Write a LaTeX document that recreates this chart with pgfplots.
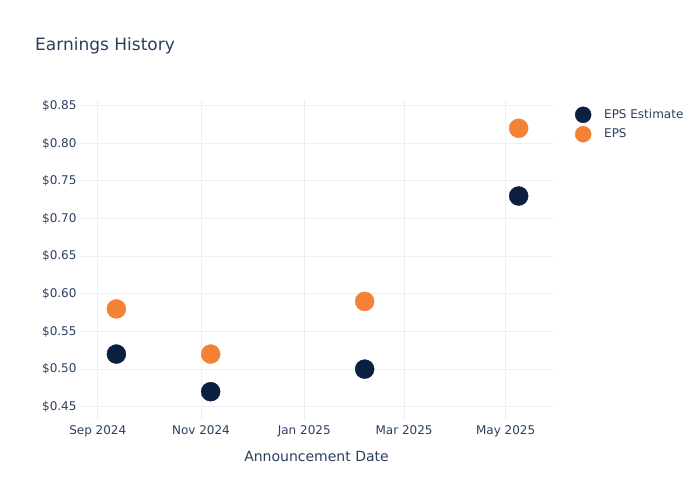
\documentclass[border=0pt]{standalone}
\usepackage{pgfplots}
\pgfplotsset{compat=1.18}
\usepackage{fontspec}
\setmainfont{DejaVu Sans}
\definecolor{navy}{RGB}{11,31,65}
\definecolor{orng}{RGB}{245,129,55}
\definecolor{txt}{RGB}{42,63,95}
\definecolor{grd}{RGB}{235,240,248}
\begin{document}
\begin{tikzpicture}[x=1bp,y=1bp]
\useasboundingbox (0,0) rectangle (700,500);
\node[anchor=west, text=txt, font=\fontsize{17bp}{20bp}\selectfont, inner sep=0] at (35,454) {Earnings History};
\begin{axis}[
  at={(80bp,80bp)}, anchor=south west,
  scale only axis, width=473bp, height=320bp,
  xmin=-10.5, xmax=269, ymin=0.4324, ymax=0.8576,
  xtick={0,61,122,181,241},
  xticklabels={Sep 2024,Nov 2024,Jan 2025,Mar 2025,May 2025},
  ytick={0.45,0.5,0.55,0.6,0.65,0.7,0.75,0.8,0.85},
  yticklabel={\$\pgfmathprintnumber[fixed,fixed zerofill,precision=2]{\tick}},
  /pgf/number format/assume math mode=true,
  tick label style={text=txt, font=\fontsize{12bp}{14bp}\selectfont},
  xticklabel style={yshift=-2bp},
  grid=major, major grid style={grd, line width=1bp},
  axis line style={draw=none}, major tick length=0pt,
  xlabel={Announcement Date},
  xlabel style={text=txt, font=\fontsize{14bp}{16bp}\selectfont, at={(0.5,0)}, anchor=center, yshift=-36bp},
  clip=false,
  legend style={draw=none, fill=none, at={(1.046,0.98)}, anchor=north west,
    font=\fontsize{12bp}{14bp}\selectfont, text=txt, row sep=3bp, inner sep=0pt, column sep=0pt},
  legend cell align=left,
  legend image code/.code={\path[draw=none, fill=none] (0bp,-6bp) rectangle (26bp,6bp);
    \fill[#1] (7bp,0bp) circle (8bp);},
]
\addplot[only marks, mark=*, mark size=9.5bp, mark options={fill=navy, draw=none}, color=navy]
  coordinates {(11,0.52) (66.7,0.47) (157.7,0.50) (248.7,0.73)};
\addlegendentry{EPS Estimate}
\addplot[only marks, mark=*, mark size=9.5bp, mark options={fill=orng, draw=none}, color=orng]
  coordinates {(11,0.58) (66.7,0.52) (157.7,0.59) (248.7,0.82)};
\addlegendentry{EPS}
\end{axis}
\end{tikzpicture}
\end{document}
